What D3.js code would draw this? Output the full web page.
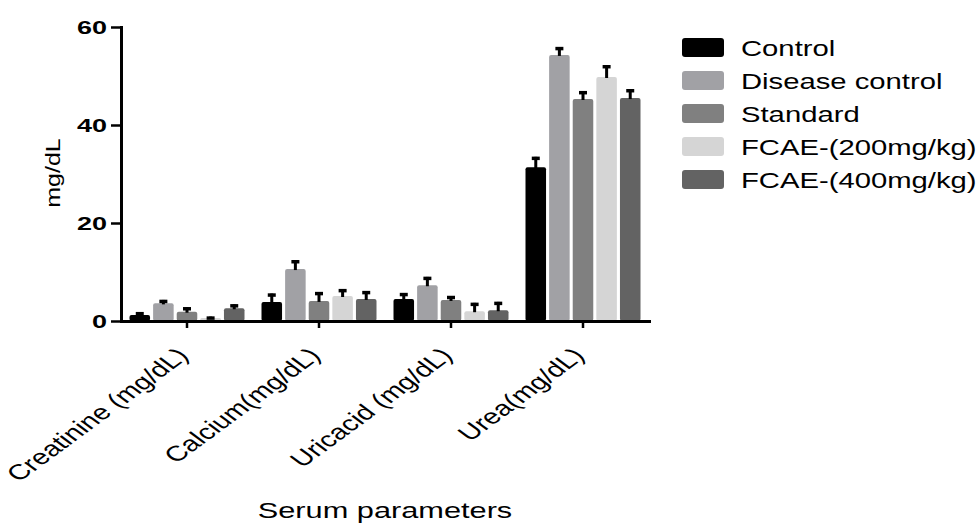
<!DOCTYPE html>
<html>
<head>
<meta charset="utf-8">
<script src="https://cdn.jsdelivr.net/npm/d3@7"></script>
<style>
  body { margin: 0; background: #fff; }
  text { font-family: "Liberation Sans", Arial, sans-serif; fill: #000; }
</style>
</head>
<body>
<script>
// Chart parameters
const width = 977;
const height = 526;
const margin = { top: 27, right: 328, bottom: 205, left: 121 };

// Data
const categories = ["Creatinine (mg/dL)", "Calcium(mg/dL)", "Uricacid (mg/dL)", "Urea(mg/dL)"];
const groups = ["Control", "Disease control", "Standard", "FCAE-(200mg/kg)", "FCAE-(400mg/kg)"];
const colors = ["#000000", "#a1a1a5", "#808080", "#d5d5d5", "#636363"];
const yTicks = [0, 20, 40, 60];

// means per group, in category order
const control        = [1.2, 3.9, 4.5, 31.4];
const diseaseControl = [3.6, 10.6, 7.3, 54.3];
const standard       = [1.9, 4.1, 4.3, 45.3];
const fcae200        = [0.6, 5.1, 2.0, 49.8];
const fcae400        = [2.6, 4.5, 2.2, 45.5];
// upper error (SEM) per group
const controlErr        = [0.6, 1.7, 1.2, 2.1];
const diseaseControlErr = [0.7, 1.8, 1.7, 1.6];
const standardErr       = [0.9, 1.8, 0.8, 1.6];
const fcae200Err        = [0.3, 1.4, 1.7, 2.4];
const fcae400Err        = [0.8, 1.6, 1.7, 1.8];

const means = [control, diseaseControl, standard, fcae200, fcae400];
const errs = [controlErr, diseaseControlErr, standardErr, fcae200Err, fcae400Err];

// flat table for drawing
const rows = [];
categories.forEach((c, ci) => {
  groups.forEach((g, gi) => {
    rows.push({ cat: c, group: g, value: means[gi][ci], err: errs[gi][ci], color: colors[gi] });
  });
});

const svg = d3.select('body')
  .append('svg')
  .attr('width', width)
  .attr('height', height);

// Scales
const x0 = d3.scaleBand()
  .domain(categories)
  .range([margin.left, width - margin.right])
  .padding(0);

const x1 = d3.scaleBand()
  .domain(groups)
  .range([0, 115])
  .paddingInner(0.13);

const groupOffset = (x0.bandwidth() - 115) / 2;

const y = d3.scaleLinear()
  .domain([0, 60])
  .range([height - margin.bottom, margin.top]);

// Bars
svg.append('g')
  .selectAll('rect')
  .data(rows)
  .join('rect')
  .attr('x', d => x0(d.cat) + groupOffset + x1(d.group))
  .attr('y', d => y(d.value))
  .attr('width', x1.bandwidth())
  .attr('height', d => y(0) - y(d.value))
  .attr('rx', 2)
  .attr('fill', d => d.color);

// Error bars (upper only)
const eb = svg.append('g')
  .attr('stroke', '#000')
  .selectAll('g')
  .data(rows)
  .join('g')
  .attr('transform', d => `translate(${x0(d.cat) + groupOffset + x1(d.group) + x1.bandwidth() / 2},0)`);

eb.append('line')
  .attr('y1', d => y(d.value) + 1)
  .attr('y2', d => y(d.value + d.err))
  .attr('stroke-width', 3);

eb.append('line')
  .attr('x1', -4)
  .attr('x2', 4)
  .attr('y1', d => y(d.value + d.err) + 1.5)
  .attr('y2', d => y(d.value + d.err) + 1.5)
  .attr('stroke-width', 3.5);

// Y axis
const tickSx = 1.42;
svg.append('g')
  .attr('transform', `translate(${margin.left},0)`)
  .call(d3.axisLeft(y).tickValues(yTicks).tickSize(10).tickSizeOuter(0))
  .call(g => g.select('.domain').attr('stroke-width', 3).attr('stroke-linecap', 'square'))
  .call(g => g.selectAll('.tick line').attr('stroke-width', 2.5))
  .call(g => g.selectAll('.tick text')
    .attr('font-size', 19)
    .attr('font-weight', 'bold')
    .attr('font-family', '"Liberation Sans", Arial, sans-serif')
    .attr('x', -14 / tickSx)
    .attr('transform', `scale(${tickSx},1)`));

// X axis
const catSx = 1.36;
svg.append('g')
  .attr('transform', `translate(0,${y(0)})`)
  .call(d3.axisBottom(x0).tickSize(7).tickSizeOuter(0))
  .call(g => g.select('.domain').attr('stroke-width', 3).attr('stroke-linecap', 'square'))
  .call(g => g.selectAll('.tick line').attr('stroke-width', 2.5))
  .call(g => g.selectAll('.tick text')
    .attr('font-size', 21.5)
    .attr('font-family', '"Liberation Sans", Arial, sans-serif')
    .attr('text-anchor', 'end')
    .attr('x', 0)
    .attr('y', 0)
    .attr('dy', 0)
    .attr('transform', `translate(3,36) scale(${catSx},1) rotate(-45)`));

// Axis titles
svg.append('text')
  .attr('transform', 'translate(60,173) rotate(-90) scale(1.28,1)')
  .attr('text-anchor', 'middle')
  .attr('font-size', 19.5)
  .text('mg/dL');

svg.append('text')
  .attr('transform', `translate(385,518) scale(1.43,1)`)
  .attr('text-anchor', 'middle')
  .attr('font-size', 21.5)
  .text('Serum parameters');

// Legend
const legend = svg.append('g')
  .selectAll('g')
  .data(groups)
  .join('g')
  .attr('transform', (d, i) => `translate(682,${38 + i * 33})`);

legend.append('rect')
  .attr('width', 42)
  .attr('height', 19)
  .attr('rx', 3)
  .attr('fill', (d, i) => colors[i]);

legend.append('text')
  .attr('transform', 'translate(59,18) scale(1.3,1)')
  .attr('font-size', 22.5)
  .text(d => d);
</script>
</body>
</html>
